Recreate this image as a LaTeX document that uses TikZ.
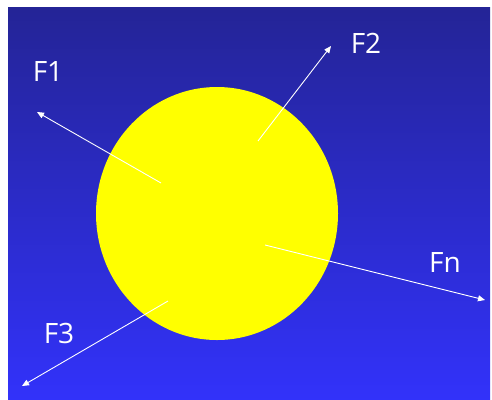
\documentclass[tikz,border=0pt]{standalone}
\usepackage{fontspec}
\setmainfont{Open Sans}
\usetikzlibrary{arrows.meta,shapes.geometric}
\definecolor{bgtop}{RGB}{36,36,150}
\definecolor{bgbot}{RGB}{50,50,250}
\definecolor{ballyellow}{RGB}{255,255,0}
\tikzset{
  force/.style={draw=white, line width=0.9pt, -{Triangle[width=6pt,length=7pt]}},
  flabel/.style={text=white, font=\fontsize{28}{28}\selectfont, inner sep=0pt},
}
\begin{document}
\begin{tikzpicture}[x=1pt,y=-1pt]
  \useasboundingbox (0,0) rectangle (492,399);
  \fill[white] (0,0) rectangle (492,399);
  \shade[top color=bgtop, bottom color=bgbot] (8,7) rectangle (490,399);
  \node[ellipse, fill=ballyellow, minimum width=242pt, minimum height=253pt, inner sep=0pt] (ball) at (217,213.5) {};
  \coordinate (s1) at (161,183);
  \coordinate (s2) at (258,141);
  \coordinate (s3) at (168,301);
  \coordinate (sn) at (265,245);
  \coordinate (t1) at (37,112);
  \coordinate (t2) at (331,46);
  \coordinate (t3) at (22,386);
  \coordinate (tn) at (485,300);
  \draw[force] (s1) -- (t1);
  \draw[force] (s2) -- (t2);
  \draw[force] (s3) -- (t3);
  \draw[force] (sn) -- (tn);
  \node[flabel] (l1) at (48,72) {F1};
  \node[flabel] (l2) at (366,43) {F2};
  \node[flabel] (l3) at (59,333) {F3};
  \node[flabel] (ln) at (445,263) {Fn};
\end{tikzpicture}
\end{document}
